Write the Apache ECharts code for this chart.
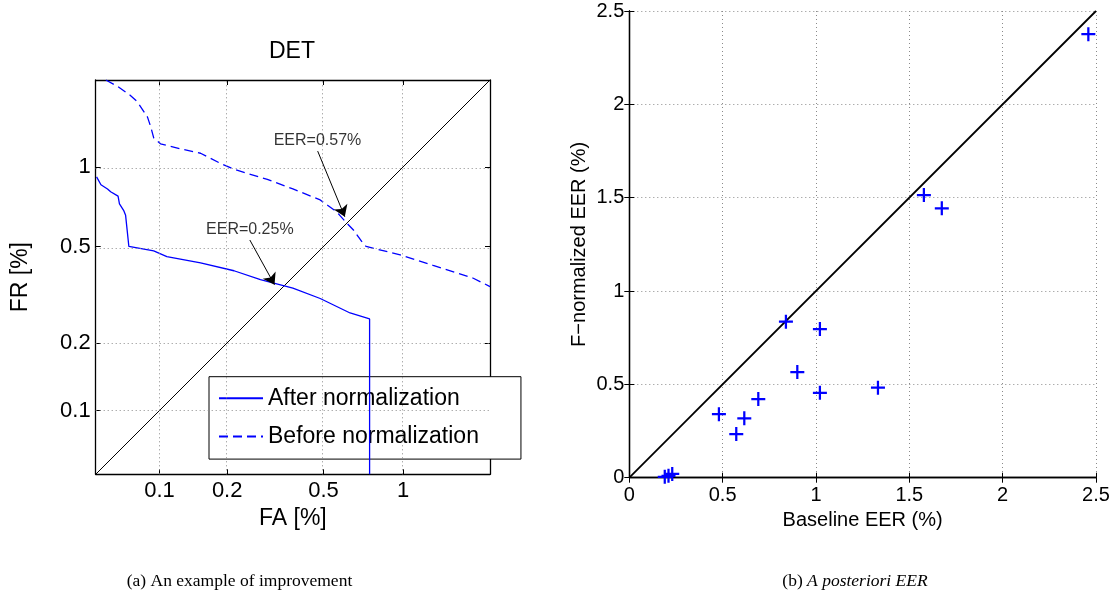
<!DOCTYPE html>
<html><head><meta charset="utf-8">
<script src="https://cdn.jsdelivr.net/npm/echarts@6/dist/echarts.min.js"></script>
<style>html,body{margin:0;padding:0;background:#fff}#c{width:1120px;height:599px}</style>
</head><body><div id="c"></div>
<script>
// ---------- (a) DET panel, values in percent ----------
const detSeriesNames = ['After normalization', 'Before normalization'];
const afterFA = [0.0505, 0.053, 0.057, 0.059, 0.064, 0.065, 0.068, 0.0695, 0.072, 0.094, 0.108, 0.153, 0.214, 0.277, 0.377, 0.485, 0.634, 0.752, 0.752];
const afterFR = [0.92, 0.86, 0.83, 0.81, 0.78, 0.73, 0.69, 0.66, 0.50, 0.48, 0.456, 0.43, 0.40, 0.368, 0.34, 0.308, 0.268, 0.253, 0.05];
const beforeFA = [0.056, 0.064, 0.073, 0.079, 0.088, 0.091, 0.094, 0.101, 0.125, 0.153, 0.187, 0.214, 0.296, 0.377, 0.485, 0.563, 0.616, 0.653, 0.71, 0.73, 0.976, 1.28, 1.76, 2.0];
const beforeFR = [2.0, 1.90, 1.78, 1.69, 1.50, 1.39, 1.27, 1.21, 1.16, 1.12, 1.03, 0.98, 0.90, 0.83, 0.755, 0.68, 0.616, 0.58, 0.515, 0.50, 0.463, 0.42, 0.373, 0.345];
const detRange = [0.05, 2];
const detTicks = [0.1, 0.2, 0.5, 1];
const eerText = ['EER=0.57%', 'EER=0.25%'];
const eerTextFA = [0.473, 0.25];
const eerTextFR = [1.247, 0.58];
const eerArrowFromFA = [0.474, 0.25];
const eerArrowFromFR = [1.14, 0.53];
const eerArrowToFA = [0.605, 0.317];
const eerArrowToFR = [0.652, 0.351];

// ---------- (b) scatter panel ----------
const baselineEER = [0.19, 0.21, 0.23, 0.480, 0.573, 0.616, 0.691, 0.839, 0.900, 1.021, 1.021, 1.332, 1.578, 1.674, 2.459];
const fnormEER    = [0.005, 0.01, 0.02, 0.340, 0.234, 0.318, 0.421, 0.836, 0.566, 0.796, 0.455, 0.482, 1.514, 1.443, 2.376];
const eerTicks = [0, 0.5, 1, 1.5, 2, 2.5];

// inverse normal CDF (Acklam) -> DET (probit) scale
function probit(p){
  const a=[-3.969683028665376e+01,2.209460984245205e+02,-2.759285104469687e+02,1.383577518672690e+02,-3.066479806614716e+01,2.506628277459239e+00];
  const b=[-5.447609879822406e+01,1.615858368580409e+02,-1.556989798598866e+02,6.680131188771972e+01,-1.328068155288572e+01];
  const c=[-7.784894002430293e-03,-3.223964580411365e-01,-2.400758277161838e+00,-2.549732539343734e+00,4.374664141464968e+00,2.938163982698783e+00];
  const d=[7.784695709041462e-03,3.224671290700398e-01,2.445134137142996e+00,3.754408661907416e+00];
  const pl=0.02425, ph=1-pl; let q,r;
  if(p<pl){q=Math.sqrt(-2*Math.log(p));return (((((c[0]*q+c[1])*q+c[2])*q+c[3])*q+c[4])*q+c[5])/((((d[0]*q+d[1])*q+d[2])*q+d[3])*q+1);}
  if(p<=ph){q=p-0.5;r=q*q;return (((((a[0]*r+a[1])*r+a[2])*r+a[3])*r+a[4])*r+a[5])*q/(((((b[0]*r+b[1])*r+b[2])*r+b[3])*r+b[4])*r+1);}
  q=Math.sqrt(-2*Math.log(1-p));return -(((((c[0]*q+c[1])*q+c[2])*q+c[3])*q+c[4])*q+c[5])/((((d[0]*q+d[1])*q+d[2])*q+d[3])*q+1);
}
const P = v => probit(v / 100);
const detTickVals = detTicks.map(P);
const detFmt = v => { for (let i=0;i<detTicks.length;i++) if (Math.abs(detTickVals[i]-v) < 1e-6) return String(detTicks[i]); return ''; };

const FONT = 'Liberation Sans, Arial, Helvetica, sans-serif';
const SERIF = 'Liberation Serif, Times New Roman, serif';
const gridLine = {color:'#8a8a8a', width:1, type:[1,3]};
const boxLine = {show:true, lineStyle:{color:'#000', width:1.3}};
const tickIn = {show:true, inside:true, length:5, lineStyle:{color:'#000', width:1}};

const detMin = P(detRange[0]), detMax = P(detRange[1]);
function detAxis(extra){
  return Object.assign({type:'value', gridIndex:0, min:detMin, max:detMax, axisLine:boxLine,
    splitLine:{show:false},
    axisTick:Object.assign({}, tickIn, {customValues:detTickVals}),
    axisLabel:{show:true, customValues:detTickVals, formatter:detFmt, fontSize:22, color:'#000', fontFamily:FONT}}, extra);
}
function eerAxis(extra){
  return Object.assign({type:'value', gridIndex:1, min:eerTicks[0], max:eerTicks[eerTicks.length-1], interval:0.5,
    axisLine:boxLine, axisTick:tickIn,
    splitLine:{show:true, lineStyle:gridLine},
    axisLabel:{show:true, fontSize:20, color:'#000', fontFamily:FONT}}, extra);
}

const gridMarks = [];
detTickVals.forEach(v => { gridMarks.push({xAxis:v}); gridMarks.push({yAxis:v}); });

const option = {
  animation:false,
  backgroundColor:'#fff',
  grid:[
    {left:95.7, top:80, width:394.3, height:394.3, show:false},
    {left:629.3, top:11, width:466.7, height:466.7, show:false}
  ],
  xAxis:[
    detAxis({position:'bottom', name:'FA [%]', nameLocation:'middle', nameGap:30,
      nameTextStyle:{fontSize:23, color:'#000', fontFamily:FONT},
      axisLabel:{show:true, customValues:detTickVals, formatter:detFmt, fontSize:22, color:'#000', fontFamily:FONT, margin:6}}),
    detAxis({position:'top', axisLabel:{show:false}}),
    eerAxis({position:'bottom', name:'Baseline EER (%)', nameLocation:'middle', nameGap:30,
      nameTextStyle:{fontSize:20, color:'#000', fontFamily:FONT},
      axisLabel:{show:true, fontSize:20, color:'#000', fontFamily:FONT, margin:8}}),
    eerAxis({position:'top', axisLabel:{show:false}, splitLine:{show:false}})
  ],
  yAxis:[
    detAxis({position:'left', name:'FR [%]', nameLocation:'middle', nameGap:64, nameRotate:90,
      nameTextStyle:{fontSize:23, color:'#000', fontFamily:FONT},
      axisLabel:{show:true, customValues:detTickVals, formatter:detFmt, fontSize:22, color:'#000', fontFamily:FONT, margin:5}}),
    detAxis({position:'right', axisLabel:{show:false}}),
    eerAxis({position:'left', name:'F\u2212normalized EER (%)', nameLocation:'middle', nameGap:40, nameRotate:90,
      nameTextStyle:{fontSize:20, color:'#000', fontFamily:FONT},
      axisLabel:{show:true, fontSize:20, color:'#000', fontFamily:FONT, margin:5}}),
    eerAxis({position:'right', axisLabel:{show:false}, splitLine:{show:false}})
  ],
  legend:{
    data:detSeriesNames, orient:'vertical', left:209, top:376.7,
    itemWidth:44, itemHeight:23, itemGap:15.4,
    padding:[10,42,11,9], borderColor:'#000', borderWidth:1, backgroundColor:'#fff',
    itemStyle:{opacity:0, borderWidth:0},
    textStyle:{fontSize:23, color:'#000', fontFamily:FONT, lineHeight:23},
    selectedMode:false
  },
  graphic:[
    {type:'text', x:292, y:52, style:{text:'DET', fontSize:23, fontFamily:FONT, fill:'#000', textAlign:'center', textVerticalAlign:'middle'}},
    {type:'text', x:239.5, y:581, style:{text:'(a) An example of improvement', fontSize:17.5, fontFamily:SERIF, fill:'#000', textAlign:'center', textVerticalAlign:'middle'}},
    {type:'text', x:855, y:581, style:{text:'{n|(b) }{i|A posteriori EER}', textAlign:'center', textVerticalAlign:'middle',
      rich:{n:{fontSize:17.5, fontFamily:SERIF, fill:'#000'}, i:{fontSize:17.5, fontFamily:SERIF, fontStyle:'italic', fill:'#000'}}}}
  ],
  series:[
    {name:'gridlines', type:'line', xAxisIndex:0, yAxisIndex:0, data:[], silent:true, z:1,
      markLine:{silent:true, symbol:['none','none'], label:{show:false}, lineStyle:gridLine, data:gridMarks, animation:false}},
    {name:'diagonal', type:'line', xAxisIndex:0, yAxisIndex:0, symbol:'none', silent:true, z:3,
      data:[[detMin,detMin],[detMax,detMax]], lineStyle:{color:'#000', width:1},
      markLine:{silent:true, symbol:['none','arrow'], symbolSize:11, label:{show:false},
        lineStyle:{color:'#000', width:1, type:'solid'}, itemStyle:{color:'#000'},
        data:eerText.map((t,i)=>[{coord:[P(eerArrowFromFA[i]),P(eerArrowFromFR[i])]},{coord:[P(eerArrowToFA[i]),P(eerArrowToFR[i])]}]),
        animation:false}},
    {name:detSeriesNames[0], type:'line', xAxisIndex:0, yAxisIndex:0, symbol:'none', z:4,
      data:afterFA.map((x,i)=>[P(x),P(afterFR[i])]), lineStyle:{color:'#0000ff', width:1.3}, itemStyle:{color:'#0000ff'}},
    {name:detSeriesNames[1], type:'line', xAxisIndex:0, yAxisIndex:0, symbol:'none', z:4,
      data:beforeFA.map((x,i)=>[P(x),P(beforeFR[i])]), lineStyle:{color:'#0000ff', width:1.3, type:[9,5]}, itemStyle:{color:'#0000ff'}},
    {name:'eer labels', type:'scatter', xAxisIndex:0, yAxisIndex:0, symbolSize:0, silent:true, z:5,
      itemStyle:{color:'#000'},
      data:eerText.map((t,i)=>[P(eerTextFA[i]),P(eerTextFR[i]),t]),
      label:{show:true, position:'inside', formatter:p=>p.data[2], fontSize:16, color:'#000', textBorderWidth:0, fontFamily:FONT}},
    {name:'identity', type:'line', xAxisIndex:2, yAxisIndex:2, symbol:'none', silent:true, z:3,
      data:[[eerTicks[0],eerTicks[0]],[eerTicks[eerTicks.length-1],eerTicks[eerTicks.length-1]]],
      lineStyle:{color:'#000', width:1.8}},
    {name:'EER pairs', type:'scatter', xAxisIndex:2, yAxisIndex:2, z:4,
      symbol:'path://M4.2,0H5.8V10H4.2Z M0,4.2H10V5.8H0Z', symbolSize:14,
      itemStyle:{color:'#0000ff', opacity:1},
      data:baselineEER.map((x,i)=>[x,fnormEER[i]])}
  ]
};
const chart = echarts.init(document.getElementById('c'), null, {renderer:'canvas'});
chart.setOption(option);
</script></body></html>
